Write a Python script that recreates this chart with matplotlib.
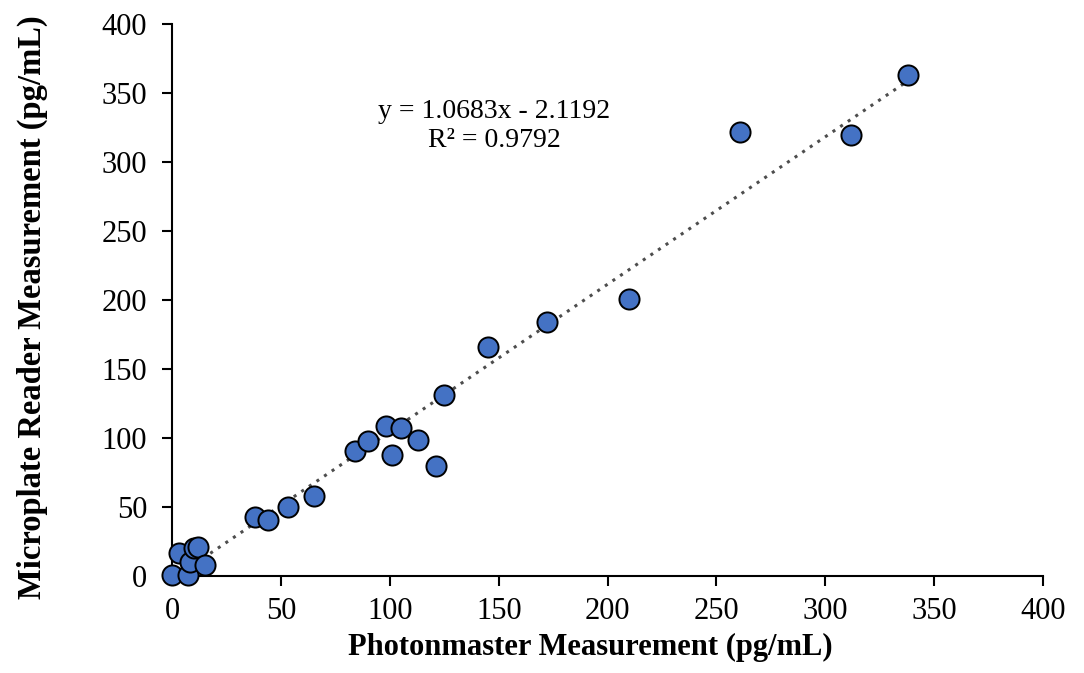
import numpy as np
import matplotlib.pyplot as plt

plt.rcParams['font.family'] = ['Liberation Serif', 'DejaVu Serif']

# measurements (pg/mL)
photonmaster = [0, 7, 3, 8, 10, 12, 15, 38, 44, 53, 65, 84, 90, 98,
                101, 105, 113, 121, 125, 145, 172, 210, 261, 312, 338]
microplate = [1, 1, 17, 10, 20, 21, 8, 43, 41, 50, 58, 91, 98, 109,
              88, 107, 99, 80, 131, 166, 184, 201, 322, 320, 363]

slope, intercept = 1.0683, -2.1192
r2 = 0.9792

x = np.array(photonmaster, dtype=float)
y = np.array(microplate, dtype=float)

fig = plt.figure(figsize=(10.84, 6.73), dpi=100)
ax = fig.add_axes([0.159, 0.144, 0.803, 0.82])

xl = np.array([x.min(), x.max()])
ax.plot(xl, slope * xl + intercept, linestyle=(0, (1, 2)), color='#4d4d4d',
        linewidth=2.2, zorder=2)
ax.scatter(x, y, s=210, color='#4472C4', edgecolors='black', linewidths=1.4,
           zorder=3, clip_on=False)

ax.text(148, 326, f"y = {slope}x - {abs(intercept)}\nR² = {r2}",
        ha='center', va='center', fontsize=20, linespacing=1.2)

ax.set_xlim(0, 400)
ax.set_ylim(0, 400)
ax.set_xticks(np.arange(0, 401, 50))
ax.set_yticks(np.arange(0, 401, 50))
ax.spines['top'].set_visible(False)
ax.spines['right'].set_visible(False)
for s in ('left', 'bottom'):
    ax.spines[s].set_linewidth(1.5)
ax.tick_params(axis='both', direction='out', length=7, width=1.5,
               labelsize=22)
ax.tick_params(axis='y', pad=11)
ax.tick_params(axis='x', pad=8)

ax.set_xlabel("Photonmaster Measurement (pg/mL)", fontsize=22,
              fontweight='bold', labelpad=5)
ax.set_ylabel("Microplate Reader Measurement (pg/mL)", fontsize=23.5,
              fontweight='bold', labelpad=39)
ax.xaxis.label.set_x(0.48)
ax.yaxis.label.set_y(0.487)

fig.savefig("out.png", dpi=100)
